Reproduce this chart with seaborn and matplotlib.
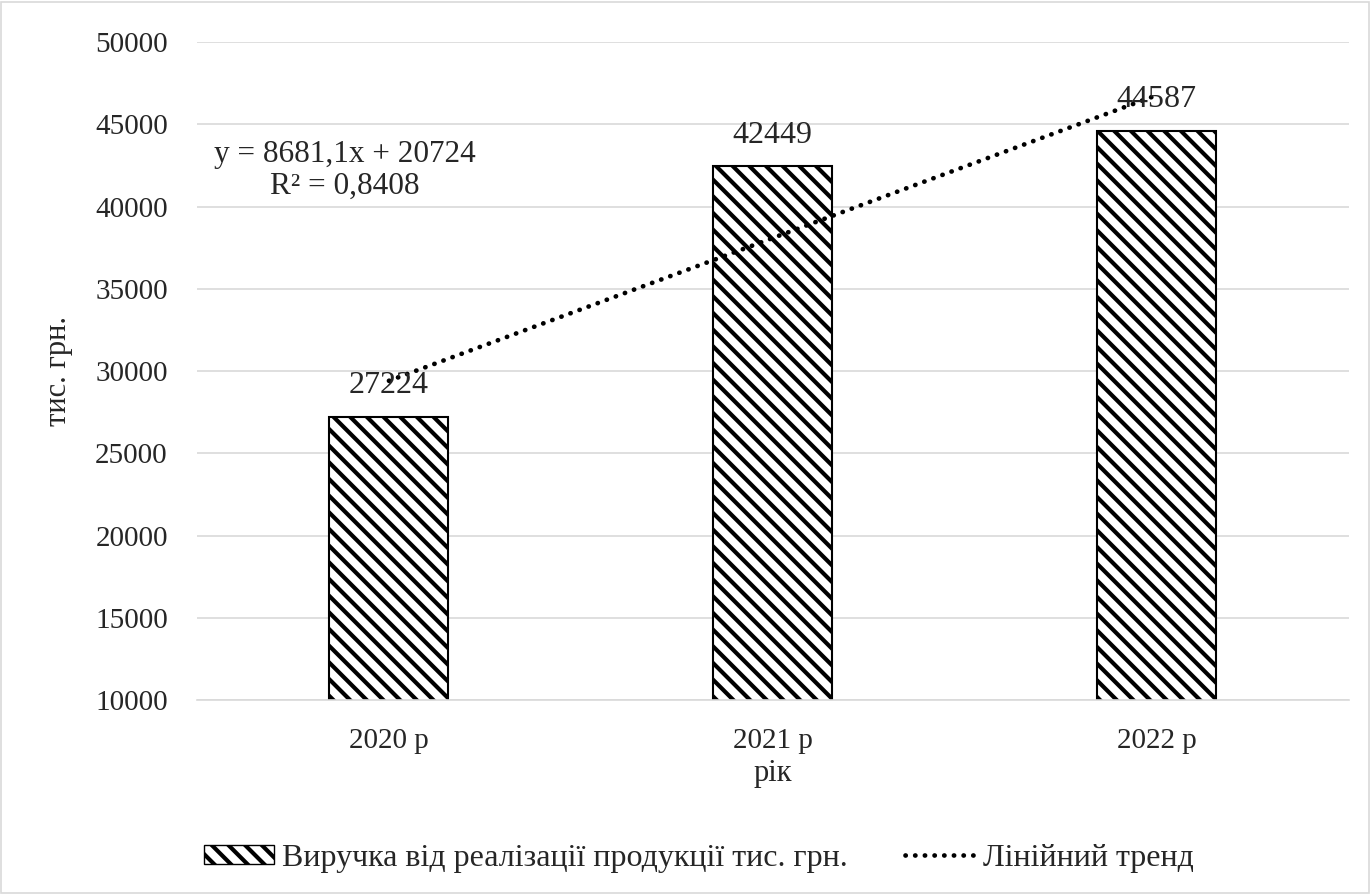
import numpy as np
import matplotlib
matplotlib.use("Agg")
import matplotlib.pyplot as plt
import seaborn as sns
from matplotlib.lines import Line2D
from matplotlib.patches import Patch

# data
years = ["2020 р", "2021 р", "2022 р"]
revenue = [27224, 42449, 44587]
eq_text = "y = 8681,1x + 20724"
r2_text = "R² = 0,8408"
y_ticks = [10000, 15000, 20000, 25000, 30000, 35000, 40000, 45000, 50000]

sns.set_theme(style="white")
plt.rcParams["font.family"] = ["Liberation Serif", "DejaVu Serif"]
plt.rcParams["hatch.linewidth"] = 3.0
plt.rcParams["hatch.color"] = "black"

FS = 21      # ticks, axis titles
FS_BIG = 23  # data labels, legend
dots = (0, (0.05, 2.0))

fig = plt.figure(figsize=(13.72, 8.94), dpi=100)
ax = fig.add_axes([0.1436, 0.217, 0.8394, 0.736])

sns.barplot(x=years, y=revenue, color="white", edgecolor="black",
            linewidth=1.5, width=0.31, saturation=1, ax=ax, zorder=2)
for p in ax.patches:
    p.set_hatch("\\\\")

# linear trend (least squares, as in the spreadsheet)
xs = np.arange(len(revenue))
k, b = np.polyfit(xs + 1, revenue, 1)
ax.plot(xs, k * (xs + 1) + b, color="black", linewidth=3.4,
        linestyle=dots, dash_capstyle="round", zorder=4)

for i, v in enumerate(revenue):
    ax.annotate(str(v), (i, v), xytext=(0, 12), textcoords="offset points",
                ha="center", va="bottom", fontsize=FS_BIG, zorder=5)

ax.text(-0.115, 43150, eq_text, ha="center", va="center", fontsize=22.5)
ax.text(-0.115, 41200, r2_text, ha="center", va="center", fontsize=22.5)

ax.set_ylim(10000, 50000)
ax.set_yticks(y_ticks)
ax.set_xlim(-0.5, 2.5)
ax.yaxis.grid(True, color="#d9d9d9", linewidth=1.2)
ax.set_axisbelow(True)
for s in ["top", "right", "left"]:
    ax.spines[s].set_visible(False)
ax.spines["bottom"].set_color("#d9d9d9")
ax.spines["bottom"].set_linewidth(1.2)
ax.tick_params(axis="y", labelsize=FS, length=0, pad=21)
ax.tick_params(axis="x", labelsize=FS, length=0, pad=20)
ax.set_xlabel("рік", fontsize=22, labelpad=4)
ax.set_ylabel("тис. грн.", fontsize=22, labelpad=16)

handles = [
    Patch(facecolor="white", edgecolor="black", hatch="\\\\", linewidth=1),
    Line2D([0], [0], color="black", linewidth=3.4, linestyle=dots,
           dash_capstyle="round"),
]
labels = ["Виручка від реалізації продукції тис. грн.", "Лінійний тренд"]
fig.legend(handles, labels, loc="center", bbox_to_anchor=(0.5095, 0.04), ncol=2,
           frameon=False, fontsize=FS_BIG, handlelength=2.2, handleheight=0.55,
           handletextpad=0.25, columnspacing=1.8)

fig.patches.append(plt.Rectangle((0.001, 0.001), 0.997, 0.997, transform=fig.transFigure,
                                 fill=False, edgecolor="#d9d9d9", linewidth=1.2))

fig.savefig("out.png", dpi=100)
